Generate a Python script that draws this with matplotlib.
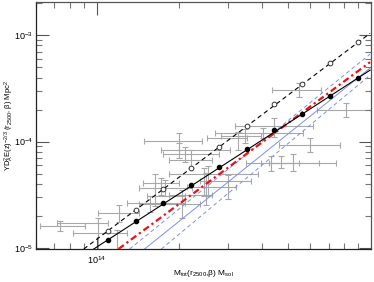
import matplotlib
matplotlib.use("Agg")
import matplotlib.pyplot as plt
import matplotlib.ticker as ticker
import numpy as np

plt.rcParams["font.family"] = ["Liberation Sans", "DejaVu Sans"]
plt.rcParams["mathtext.fontset"] = "custom"
plt.rcParams["mathtext.rm"] = "Liberation Sans"
plt.rcParams["mathtext.it"] = "Liberation Sans"

# mass in units of 1e14 M_sol, Y in units of 1e-5 Mpc^2
M_UNIT = 1e14
Y_UNIT = 1e-5

# cluster measurements (centre, lower, upper)
obs_m = [5.47, 8.11, 4.44, 4.05, 3.48, 1.99, 3.26, 6.00, 4.33, 4.71, 5.21, 2.47, 3.02,
         2.55, 2.00, 2.20, 1.72, 1.77, 2.51, 1.63, 2.04, 1.21, 1.01, 1.19, 1.56, 2.09, 0.734]
obs_m_lo = [4.37, 6.36, 3.18, 2.69, 2.85, 1.49, 2.53, 4.63, 3.51, 3.98, 4.26, 1.84, 2.37,
            2.13, 1.72, 1.84, 1.47, 1.43, 1.84, 1.53, 1.43, 1.01, 0.715, 0.818, 1.29, 1.74, 0.62]
obs_m_hi = [6.58, 10.5, 6.15, 5.66, 3.98, 2.41, 3.54, 7.72, 5.47, 6.47, 7.46, 3.88, 3.66,
            3.23, 3.05, 2.64, 2.00, 2.23, 2.64, 2.09, 2.37, 1.43, 1.10, 1.29, 2.09, 2.80, 0.904]
obs_y = [30.5, 19.8, 14.0, 12.0, 11.3, 10.1, 10.8, 9.27, 6.28, 6.28, 6.28, 4.95, 4.26,
         3.74, 8.32, 6.70, 4.08, 3.66, 3.15, 3.08, 2.59, 2.13, 1.72, 1.38, 2.65, 7.63, 1.61]
obs_y_lo = [26.2, 17.0, 11.0, 10.8, 9.68, 8.32, 8.32, 7.97, 5.28, 5.64, 5.28, 3.08, 2.88,
            3.08, 7.00, 5.64, 3.15, 3.08, 2.53, 2.48, 1.91, 1.75, 0.95, 0.95, 2.18, 6.42, 1.45]
obs_y_hi = [35.4, 23.0, 16.6, 13.4, 13.1, 12.0, 12.3, 10.8, 7.31, 7.31, 7.63, 5.64, 4.85,
            5.89, 9.68, 8.32, 4.54, 4.35, 5.06, 4.95, 3.51, 2.53, 1.91, 1.48, 3.08, 8.88, 1.80]

# model points
model_m = [1.10, 1.39, 1.75, 2.21, 2.80, 3.54, 4.44, 5.61, 7.10, 8.97]
model_filled = [1.19, 1.79, 2.65, 3.91, 5.76, 8.50, 12.8, 18.1, 26.7, 39.5]
model_open = [1.44, 2.28, 3.58, 5.64, 8.88, 14.0, 22.5, 34.7, 54.6, 85.9]

# straight relations (end points)
solid_m = [0.975, 9.92]
solid_y = [0.98, 46.9]
dashed_m = [0.897, 9.92]
dashed_y = [0.98, 104.0]
red_m = [1.20, 9.92]
red_y = [0.98, 55.8]
blue_up_m = [1.318, 9.92]
blue_up_y = [0.98, 66.3]
blue_mid_m = [1.494, 9.92]
blue_mid_y = [0.98, 49.0]
blue_lo_m = [1.72, 9.92]
blue_lo_y = [0.98, 42.1]


def scaled(values, unit):
    return np.asarray(values) * unit


fig = plt.figure(figsize=(3.74, 2.82), dpi=100)
ax = fig.add_axes([0.096, 0.117, 0.896, 0.876])

m = scaled(obs_m, M_UNIT)
y = scaled(obs_y, Y_UNIT)
xerr = [m - scaled(obs_m_lo, M_UNIT), scaled(obs_m_hi, M_UNIT) - m]
yerr = [y - scaled(obs_y_lo, Y_UNIT), scaled(obs_y_hi, Y_UNIT) - y]
ax.errorbar(m, y, xerr=xerr, yerr=yerr, fmt="none", ecolor="#a8a8a8",
            elinewidth=0.8, capsize=2.2, capthick=0.8, zorder=1)

blue = "#7b8ff0"
ax.plot(scaled(blue_up_m, M_UNIT), scaled(blue_up_y, Y_UNIT), color=blue, lw=0.7, ls=(0, (4, 3)), zorder=2)
ax.plot(scaled(blue_mid_m, M_UNIT), scaled(blue_mid_y, Y_UNIT), color=blue, lw=0.7, ls="-", zorder=2)
ax.plot(scaled(blue_lo_m, M_UNIT), scaled(blue_lo_y, Y_UNIT), color=blue, lw=0.7, ls=(0, (4, 3)), zorder=2)
ax.plot(scaled(red_m, M_UNIT), scaled(red_y, Y_UNIT), color="#ee1111", lw=1.6, ls=(0, (3, 1.5, 1, 1.5)), zorder=3)
ax.plot(scaled(solid_m, M_UNIT), scaled(solid_y, Y_UNIT), color="black", lw=0.8, zorder=3)
ax.plot(scaled(dashed_m, M_UNIT), scaled(dashed_y, Y_UNIT), color="black", lw=0.8, ls=(0, (4, 3)), zorder=3)

ax.plot(scaled(model_m, M_UNIT), scaled(model_filled, Y_UNIT), ls="none", marker="o",
        ms=3.0, mfc="black", mec="black", zorder=4)
ax.plot(scaled(model_m, M_UNIT), scaled(model_open, Y_UNIT), ls="none", marker="o",
        ms=3.4, mfc="white", mec="#333333", mew=0.7, zorder=4)

ax.set_xscale("log")
ax.set_yscale("log")
ax.set_xlim(6e13, 1e15)
ax.set_ylim(9.8e-6, 2.05e-3)

ax.xaxis.set_major_locator(ticker.FixedLocator([1e14]))
ax.xaxis.set_minor_locator(ticker.LogLocator(base=10, subs=np.arange(2, 10)))
ax.xaxis.set_minor_formatter(ticker.NullFormatter())
ax.yaxis.set_minor_locator(ticker.LogLocator(base=10, subs=np.arange(2, 10)))
ax.yaxis.set_minor_formatter(ticker.NullFormatter())

ax.tick_params(which="both", direction="in", top=True, right=True, labelsize=6.5)
ax.tick_params(axis="x", pad=4)
ax.tick_params(axis="y", pad=2)
ax.tick_params(which="major", length=9, width=0.8, color="#555555")
ax.tick_params(which="minor", length=4.3, width=0.8, color="#777777")
for side in ("left", "bottom"):
    ax.spines[side].set_color("#222222")
for side in ("top", "right"):
    ax.spines[side].set_color("#555555")
for sp in ax.spines.values():
    sp.set_linewidth(0.9)

ax.set_xlabel(r"M$_{\rm tot}$(r$_{2500}$,$\beta$) M$_{\rm sol}$", fontsize=6, labelpad=2)
ax.set_ylabel(r"YD$_{\rm A}^{2}$E(z)$^{-2/3}$ (r$_{2500}$, $\beta$) Mpc$^{2}$", fontsize=5.5, labelpad=0)
ax.xaxis.set_label_coords(0.5, -0.075)
ax.yaxis.set_label_coords(-0.06, 0.5)

fig.savefig("out.png", dpi=100)
